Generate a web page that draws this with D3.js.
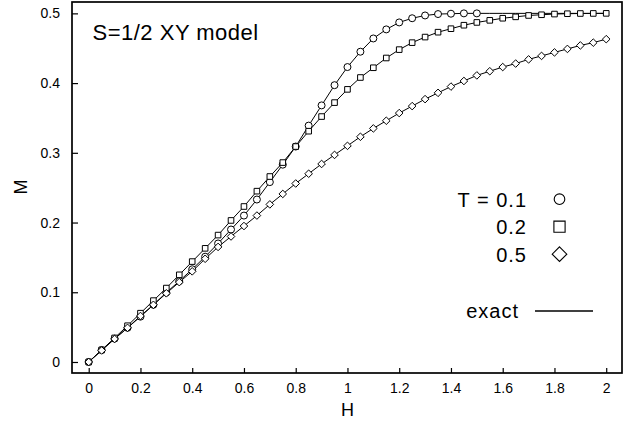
<!DOCTYPE html>
<meta charset="utf-8">
<style>
body { margin: 0; background: #fff; }
svg { font-family: "Liberation Sans", Arial, sans-serif; }
.axis text { font-size: 14px; fill: #000; }
.axis line { stroke: #000; stroke-width: 1.2; }
.axis path { display: none; }
</style>
<script src="https://cdn.jsdelivr.net/npm/d3@7"></script>
<body>
<div id="graph"></div>
<script>
// field values H, every 0.05 from 0 to 2
var H = [0, 0.05, 0.1, 0.15, 0.2, 0.25, 0.3, 0.35, 0.4, 0.45, 0.5, 0.55, 0.6, 0.65, 0.7,
         0.75, 0.8, 0.85, 0.9, 0.95, 1.0, 1.05, 1.1, 1.15, 1.2, 1.25, 1.3, 1.35, 1.4, 1.45,
         1.5, 1.55, 1.6, 1.65, 1.7, 1.75, 1.8, 1.85, 1.9, 1.95, 2.0];

// magnetisation M(H)
var M_T01 = [0, 0.0172, 0.0335, 0.049, 0.065, 0.082, 0.0996, 0.116, 0.133, 0.151, 0.170,
             0.190, 0.210, 0.233, 0.258, 0.283, 0.309, 0.339, 0.368, 0.397, 0.423, 0.445,
             0.464, 0.477, 0.487, 0.493, 0.497, 0.499, 0.4995, 0.5, 0.5,
             0.5, 0.5, 0.5, 0.5, 0.5, 0.5, 0.5, 0.5, 0.5, 0.5];
var M_T02 = [0, 0.0172, 0.0345, 0.052, 0.070, 0.088, 0.106, 0.125, 0.144, 0.163, 0.182,
             0.203, 0.223, 0.245, 0.266, 0.286, 0.309, 0.331, 0.352, 0.372, 0.391, 0.408,
             0.422, 0.436, 0.448, 0.458, 0.466, 0.473, 0.478, 0.483, 0.487,
             0.490, 0.493, 0.495, 0.497, 0.498, 0.499, 0.4995, 0.4998, 0.4999, 0.5];
var M_T05 = [0, 0.0165, 0.033, 0.049, 0.066, 0.082, 0.0985, 0.1145, 0.130, 0.148, 0.165,
             0.180, 0.195, 0.210, 0.226, 0.241, 0.256, 0.270, 0.284, 0.297, 0.310, 0.323,
             0.335, 0.346, 0.357, 0.367, 0.377, 0.386, 0.395, 0.403, 0.411,
             0.417, 0.423, 0.428, 0.434, 0.439, 0.444, 0.449, 0.454, 0.458, 0.463];

var temps = ["T = 0.1", "0.2", "0.5"];
var symbolTypes = ["circle", "square", "diamond"];
var markerMaxH = [1.5, 2.0, 2.0];   // T=0.1 symbols stop at H=1.5, line goes on
var xTicks = [0, 0.2, 0.4, 0.6, 0.8, 1, 1.2, 1.4, 1.6, 1.8, 2];
var yTicks = [0, 0.1, 0.2, 0.3, 0.4, 0.5];
var title = "S=1/2 XY model";

var series = [M_T01, M_T02, M_T05].map(function(m, i) {
  return {
    label: temps[i],
    sym: symbolTypes[i],
    maxH: markerMaxH[i],
    values: H.map(function(h, j) { return {H: h, M: m[j]}; })
  };
});

var W = 639, Ht = 424;
var margin = {top: 2, right: 17, bottom: 51, left: 72};
var width = W - margin.left - margin.right,
    height = Ht - margin.top - margin.bottom;

var svg = d3.select("#graph").append("svg")
    .attr("width", W)
    .attr("height", Ht);
var g = svg.append("g")
    .attr("transform", "translate(" + margin.left + "," + margin.top + ")");

var x = d3.scaleLinear().domain([-0.0646, 2.061]).range([0, width]);
var y = d3.scaleLinear().domain([-0.0158, 0.5163]).range([height, 0]);

g.append("g")
    .attr("class", "axis")
    .attr("transform", "translate(0," + height + ")")
    .call(d3.axisBottom(x).tickValues(xTicks).tickSizeInner(-5).tickSizeOuter(0)
          .tickPadding(10).tickFormat(d3.format("")));
g.append("g")
    .attr("class", "axis")
    .call(d3.axisLeft(y).tickValues(yTicks).tickSizeInner(-6).tickSizeOuter(0)
          .tickPadding(12).tickFormat(d3.format("")));

// frame
g.append("rect")
    .attr("width", width)
    .attr("height", height)
    .attr("fill", "none")
    .attr("stroke", "#000")
    .attr("stroke-width", 1.7);

var line = d3.line().x(d => x(d.H)).y(d => y(d.M));

// r = half width of the symbol
function marker(type, r) {
  if (type == "circle") return d3.symbol().type(d3.symbolCircle).size(Math.PI * r * r)();
  if (type == "square") return d3.symbol().type(d3.symbolSquare).size(4 * r * r)();
  return "M0," + (-r) + "L" + r + ",0L0," + r + "L" + (-r) + ",0Z";
}

var markerR = {circle: 3.5, square: 2.8, diamond: 3.8};

series.forEach(function(s) {
  g.append("path")
      .datum(s.values)
      .attr("d", line)
      .attr("fill", "none")
      .attr("stroke", "#000")
      .attr("stroke-width", 1);
});
series.forEach(function(s) {
  g.selectAll(".pt-" + s.sym)
      .data(s.values.filter(d => d.H <= s.maxH + 1e-9))
      .enter().append("path")
      .attr("class", "pt-" + s.sym)
      .attr("transform", d => "translate(" + x(d.H) + "," + y(d.M) + ")")
      .attr("d", marker(s.sym, markerR[s.sym]))
      .attr("fill", "#fff")
      .attr("stroke", "#000")
      .attr("stroke-width", 1);
});

// title
svg.append("text")
    .attr("x", 92.5)
    .attr("y", 40)
    .style("font-size", "22px")
    .style("letter-spacing", "0.5px")
    .text(title);

// axis titles
svg.append("text")
    .attr("x", margin.left + x(1))
    .attr("y", 416)
    .attr("text-anchor", "middle")
    .style("font-size", "18px")
    .text("H");
svg.append("text")
    .attr("transform", "translate(27,187) rotate(-90)")
    .attr("text-anchor", "middle")
    .style("font-size", "18px")
    .text("M");

// legend
var legend = svg.selectAll(".legend")
    .data(series)
    .enter().append("g")
    .attr("class", "legend")
    .attr("transform", (d, i) => "translate(0," + (206.7 + i * 27.5) + ")");
legend.append("text")
    .attr("x", 527)
    .attr("text-anchor", "end")
    .style("font-size", "20px")
    .style("letter-spacing", "1px")
    .text(d => d.label);
legend.append("path")
    .attr("transform", "translate(559.5,-7.5)")
    .attr("d", d => d.sym == "circle" ? marker("circle", 5.3)
                  : d.sym == "square" ? marker("square", 5.6) : marker("diamond", 7.3))
    .attr("fill", "#fff")
    .attr("stroke", "#000")
    .attr("stroke-width", 1.1);

svg.append("text")
    .attr("x", 519)
    .attr("y", 318.3)
    .attr("text-anchor", "end")
    .style("font-size", "20px")
    .style("letter-spacing", "1px")
    .text("exact");
svg.append("line")
    .attr("x1", 535).attr("x2", 593)
    .attr("y1", 311).attr("y2", 311)
    .attr("stroke", "#000")
    .attr("stroke-width", 1.3);
</script>
</body>
